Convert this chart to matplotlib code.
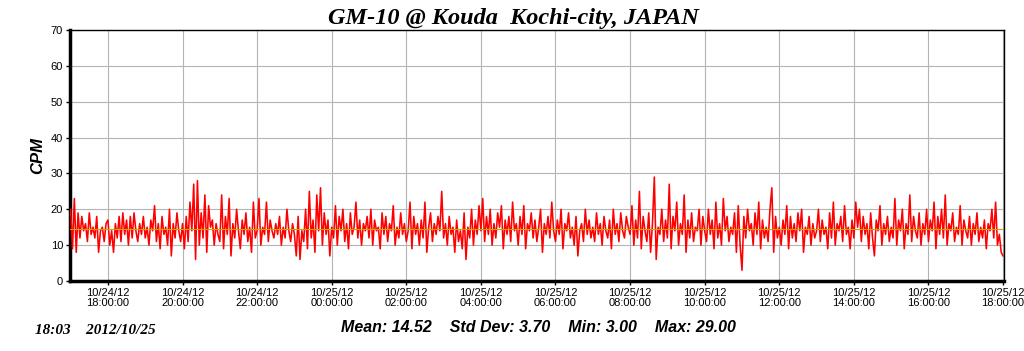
import matplotlib
matplotlib.use("Agg")
import matplotlib.pyplot as plt
import matplotlib.dates as mdates
import numpy as np
import pandas as pd

# CPM readings, one every 3 minutes, 10/24/12 17:00 -> 10/25/12 18:00 (one row per hour)
cpm_rows = [
    [20,9,23,8,19,12,18,14,16,11,19,13,15,12,18,8,14,15,11,16],   # 10/24 17h
    [17,10,14,8,16,12,18,11,19,13,17,10,18,12,19,14,11,16,13,18],  # 18h
    [12,15,10,17,14,21,11,16,9,18,13,15,10,20,7,16,12,19,14,11],   # 19h
    [16,9,18,11,22,14,27,6,28,10,19,12,24,8,21,15,17,10,16,13],    # 20h
    [11,24,9,18,13,23,7,16,12,20,14,9,17,13,19,11,15,8,22,12],     # 21h
    [14,23,10,15,13,22,11,17,14,12,16,13,18,10,15,12,20,14,11,16], # 22h
    [13,7,18,6,14,11,20,9,25,12,17,8,24,14,26,10,19,13,17,7],      # 23h
    [15,12,21,10,18,14,20,11,16,9,19,13,15,22,12,17,10,16,14,18],  # 10/25 00h
    [12,20,10,17,14,15,9,19,13,18,11,16,14,21,10,15,12,19,13,16],  # 01h
    [11,14,22,9,18,13,16,10,17,12,22,8,15,19,11,16,13,18,14,25],   # 02h
    [12,16,10,18,13,15,8,17,11,14,9,19,6,15,12,20,10,17,13,21],    # 03h
    [14,23,11,18,13,20,10,16,12,19,15,21,9,17,13,18,11,22,14,16],  # 04h
    [10,18,13,21,9,16,14,19,12,17,11,15,20,8,16,13,18,12,22,14],   # 05h
    [11,17,13,20,9,16,14,19,12,15,10,18,7,14,16,11,20,13,17,12],   # 06h
    [15,11,19,13,16,10,18,14,12,17,9,20,13,16,11,19,14,12,18,15],  # 07h
    [13,21,10,17,12,25,9,18,14,11,19,8,16,29,6,15,13,20,11,17],    # 08h
    [12,27,9,18,14,22,10,16,13,24,8,17,12,19,11,15,14,20,10,18],   # 09h
    [14,11,20,13,17,9,22,12,16,10,23,14,18,11,15,13,19,8,21,10],   # 10h
    [3,18,12,20,14,16,10,19,13,22,9,17,12,15,11,20,26,8,18,12],    # 11h
    [15,10,17,13,21,9,18,12,16,11,19,14,20,8,15,13,18,10,16,12],   # 12h
    [14,20,11,17,13,15,9,19,12,22,10,16,14,18,11,21,13,15,9,17],   # 13h
    [12,22,15,20,11,18,13,16,9,19,12,7,17,14,21,10,16,13,18,11],   # 14h
    [15,12,23,10,17,14,20,9,16,13,24,11,18,14,12,19,10,16,13,20],  # 15h
    [11,17,14,22,9,18,13,20,12,24,10,16,14,19,11,15,13,21,10,17],  # 16h
    [14,12,18,10,16,13,19,11,15,12,17,9,16,14,20,12,22,10,13,8],   # 17h
    [7],                                                           # 18:00
]
cpm = [v for row in cpm_rows for v in row]
times = pd.date_range("2012-10-24 17:00", periods=len(cpm), freq="3min")

mean_cpm = 14.52
stats_text = "Mean: 14.52    Std Dev: 3.70    Min: 3.00    Max: 29.00"
title = "GM-10 @ Kouda  Kochi-city, JAPAN"
stamp = "18:03    2012/10/25"

SERIF = ["Liberation Serif", "DejaVu Serif"]
SANS = ["Liberation Sans", "DejaVu Sans"]

fig = plt.figure(figsize=(10.24, 3.51), dpi=100)
ax = fig.add_axes([70/1024, 70/351, 934/1024, 251/351])

ax.plot(times, cpm, color="red", lw=1.15, zorder=3)
ax.axhline(mean_cpm, color="#c8a800", lw=0.8, zorder=4)

ax.set_ylim(0, 70)
ax.set_yticks(range(0, 71, 10))
ax.set_xlim(pd.Timestamp("2012-10-24 16:59"), pd.Timestamp("2012-10-25 18:01:30"))
ax.xaxis.set_major_locator(mdates.HourLocator(byhour=range(0, 24, 2)))
ax.xaxis.set_major_formatter(mdates.DateFormatter("%m/%d/%y\n%H:%M:%S"))

ax.grid(True, color="#b4b4b4", lw=0.8, zorder=1)
ax.set_axisbelow(True)
for s in ["left", "bottom"]:
    ax.spines[s].set_linewidth(2.5)
for s in ["top", "right"]:
    ax.spines[s].set_linewidth(1.0)
ax.tick_params(axis="both", direction="out", length=3, width=1, labelsize=8, pad=2)
for lab in ax.get_xticklabels() + ax.get_yticklabels():
    lab.set_family(SANS)
for lab in ax.get_xticklabels():
    lab.set_linespacing(1.0)

ax.set_ylabel("CPM", fontsize=12, fontweight="bold", fontstyle="italic", family=SANS)
ax.yaxis.set_label_coords(-25/934, 0.5)

fig.text(0.501, 0.978, title, ha="center", va="top", fontsize=17.5,
         fontweight="bold", fontstyle="italic", family=SERIF)
fig.text(35/1024, 1 - 331/351, stamp, ha="left", va="center", fontsize=11,
         fontweight="bold", fontstyle="italic", family=SERIF)
fig.text(538/1024, 1 - 327/351, stats_text, ha="center", va="center", fontsize=11.5,
         fontweight="bold", fontstyle="italic", family=SANS)

fig.savefig("out.png", dpi=100)
